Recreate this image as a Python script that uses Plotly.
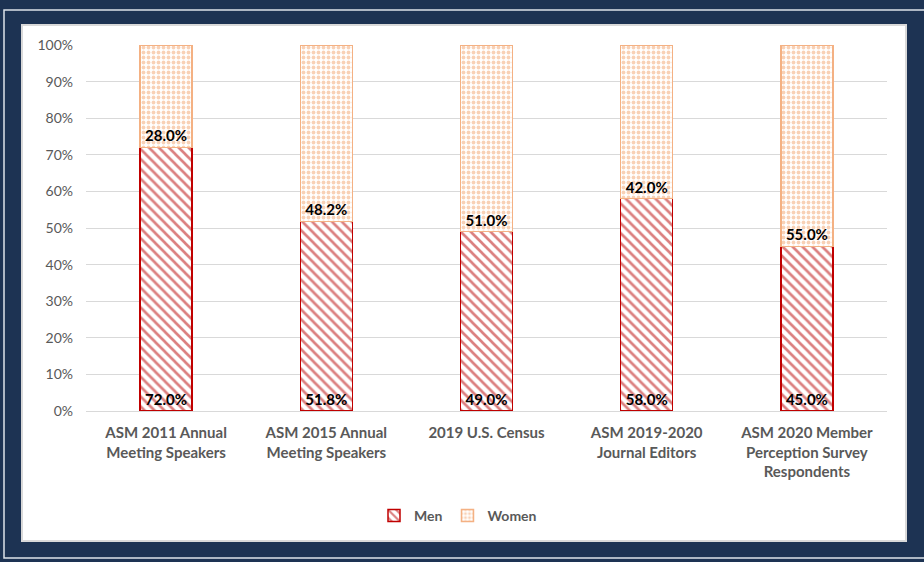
import plotly.graph_objects as go

categories = [
    "ASM 2011 Annual<br>Meeting Speakers",
    "ASM 2015 Annual<br>Meeting Speakers",
    "2019 U.S. Census",
    "ASM 2019-2020<br>Journal Editors",
    "ASM 2020 Member<br>Perception Survey<br>Respondents",
]
men = [72.0, 51.8, 49.0, 58.0, 45.0]
women = [28.0, 48.2, 51.0, 42.0, 55.0]
y_ticks = [0, 10, 20, 30, 40, 50, 60, 70, 80, 90, 100]

W, H = 924, 562
L, R, T, B = 86, 37, 45, 151
pw, ph = W - L - R, H - T - B
NAVY = "#1d3353"


def px(x):
    return (x - L) / pw


def py(y):
    return (H - B - y) / ph


label_font = dict(family="Lato", size=15, color="black", weight="bold")

fig = go.Figure()
fig.add_trace(go.Bar(
    x=categories, y=men, name="Men",
    text=[f"{v:.1f}%" for v in men], textposition="inside", insidetextanchor="start",
    textfont=label_font,
    marker=dict(color="white", line=dict(color="#c00000", width=1.5),
                pattern=dict(shape="\\", fgcolor="#b80000", bgcolor="white", size=7, solidity=0.38)),
))
fig.add_trace(go.Bar(
    x=categories, y=women, name="Women",
    text=[f"{v:.1f}%" for v in women], textposition="inside", insidetextanchor="start",
    textfont=label_font,
    marker=dict(color="white", line=dict(color="#f4b183", width=1.5),
                pattern=dict(shape=".", fgcolor="#f2a36e", bgcolor="white", size=5, solidity=0.45)),
))

fig.update_layout(
    width=W, height=H,
    barmode="stack", bargap=0.675,
    margin=dict(l=L, r=R, t=T, b=B),
    paper_bgcolor=NAVY,
    plot_bgcolor="white",
    font=dict(family="Lato", color="#595959"),
    showlegend=True,
    legend=dict(orientation="h", x=px(458), xanchor="center", y=py(516), yanchor="middle",
                bgcolor="white", font=dict(size=14, color="#595959", weight="bold"),
                traceorder="normal", itemwidth=30),
    shapes=[
        dict(type="rect", xref="paper", yref="paper", x0=px(4), x1=px(935), y0=py(10), y1=py(558),
             line=dict(color="#dde3ea", width=1.5), fillcolor="rgba(0,0,0,0)", layer="below"),
        dict(type="rect", xref="paper", yref="paper", x0=px(22), x1=px(906), y0=py(25), y1=py(541),
             line=dict(color="#d9d9d9", width=2), fillcolor="white", layer="below"),
    ],
)
fig.update_xaxes(showgrid=False, showline=True, linecolor="#d9d9d9", linewidth=1,
                 tickfont=dict(size=15, color="#595959", weight="bold"), ticks="",
                 ticklabelstandoff=8)
fig.update_yaxes(range=[0, 100], tickvals=y_ticks, ticktext=[f"{v}%" for v in y_ticks],
                 showgrid=True, gridcolor="#d9d9d9", gridwidth=1, zeroline=False,
                 tickfont=dict(size=14, color="#595959"), ticks="", ticklabelstandoff=12)

fig.write_html(
    "out.html",
    config={"displayModeBar": False},
    post_script="document.body.style.margin='0';document.body.style.background='%s';" % NAVY,
)
